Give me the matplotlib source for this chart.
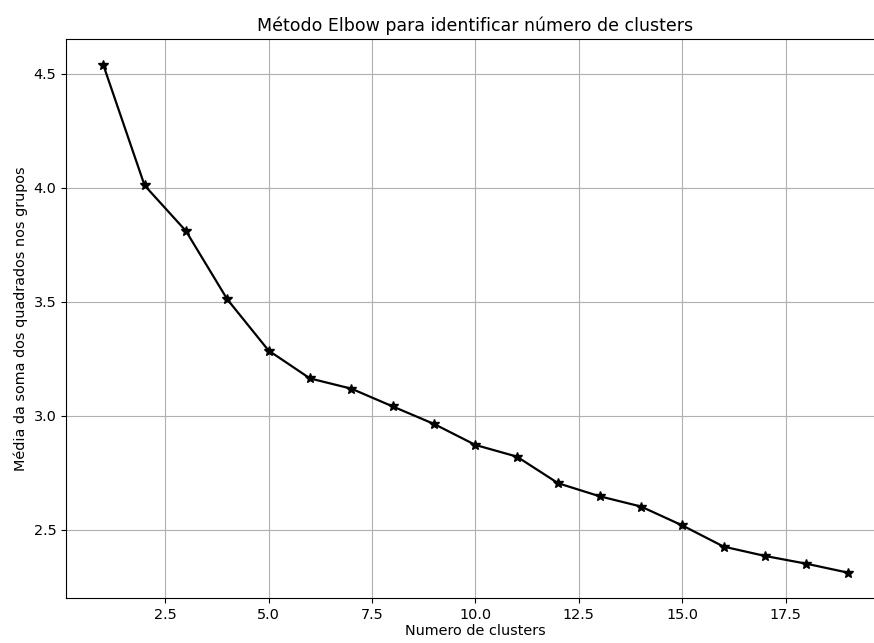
import matplotlib
matplotlib.use("Agg")
import matplotlib.pyplot as plt

clusters = list(range(1, 20))
media_soma = [4.54, 4.01, 3.81, 3.51, 3.285, 3.163, 3.118, 3.040, 2.963,
              2.871, 2.820, 2.703, 2.646, 2.601, 2.518, 2.425, 2.384, 2.350, 2.311]

plt.rcParams["font.size"] = 10.4

fig = plt.figure(figsize=(8.74, 6.43), dpi=100)
# the original picture is cut on the right, so the axes run past the edge
ax = fig.add_axes([0.0755, 0.070, 0.937, 0.869])
ax.plot(clusters, media_soma, color="black", marker="*", linewidth=1.6, markersize=7)
ax.set_title("Método Elbow para identificar número de clusters", fontsize=12.5)
ax.set_xlabel("Numero de clusters", labelpad=2)
ax.set_ylabel("Média da soma dos quadrados nos grupos")
ax.grid(True)
fig.savefig("out.png", dpi=100)
